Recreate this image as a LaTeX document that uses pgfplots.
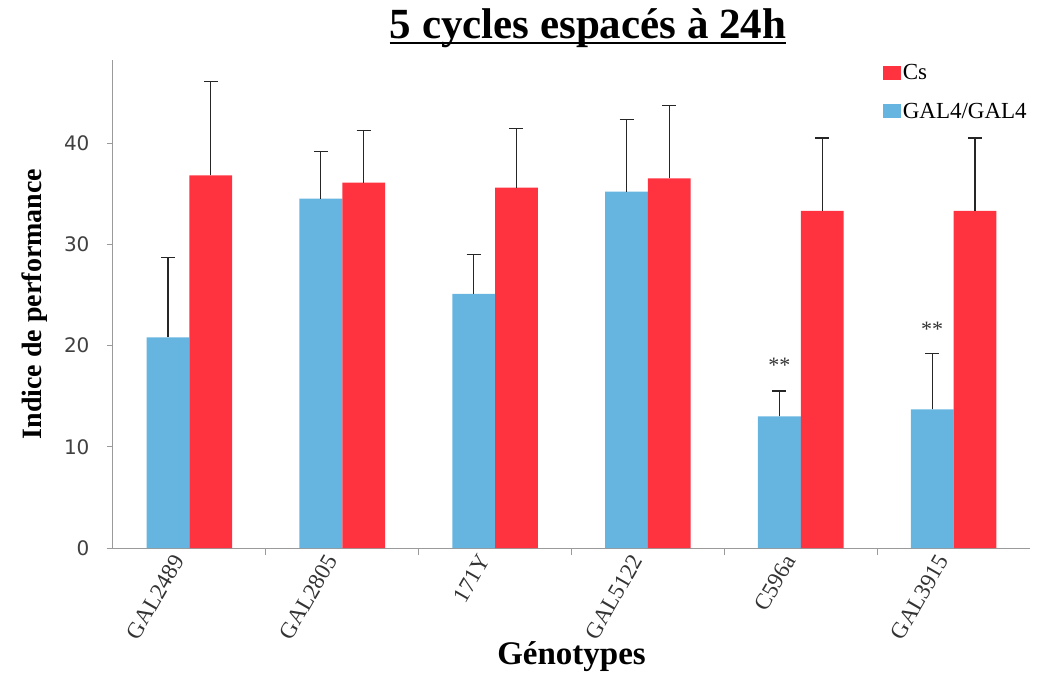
\documentclass[border=0pt]{standalone}
\usepackage{fontspec}
\setmainfont{Liberation Serif}
\newfontfamily\ticksans{DejaVu Sans}
\usepackage{pgfplots}
\pgfplotsset{compat=1.18}

\definecolor{galblue}{HTML}{65B5E0}
\definecolor{csred}{HTML}{FF333F}
\definecolor{axgray}{HTML}{9A9A9A}

\begin{document}
\begin{tikzpicture}
\begin{axis}[
  name=ax,
  scale only axis,
  width=917pt, height=488pt,
  ybar, bar width=0.28,
  xmin=-0.5, xmax=5.5,
  ymin=0, ymax=48.2,
  axis lines=left,
  axis line style={axgray, line width=1pt, -},
  xtick={0,...,5},
  xticklabels={GAL2489,GAL2805,171Y,GAL5122,C596a,GAL3915},
  major x tick style={draw=none},
  minor xtick={0.5,1.5,...,4.5},
  minor x tick style={axgray, line width=0.8pt},
  minor tick length=7pt,
  ytick={0,10,...,40},
  major y tick style={axgray, line width=0.8pt},
  major tick length=6pt,
  tick align=outside,
  x tick label style={font=\fontsize{23}{25}\selectfont, rotate=60, anchor=east, xshift=-4pt, yshift=8pt, text=black!80},
  y tick label style={font=\fontsize{20}{24}\selectfont\ticksans, text=black!75, xshift=-14pt},
  /pgf/number format/assume math mode=true,
  ylabel={Indice de performance},
  ylabel style={font=\fontsize{28}{32}\selectfont\bfseries, yshift=10pt},
  xlabel={Génotypes},
  xlabel style={font=\fontsize{33}{38}\selectfont\bfseries, yshift=8pt},
  legend style={draw=none, fill=none, at={(rel axis cs:0.836,1.0)}, anchor=north west,
    font=\fontsize{23}{25}\selectfont, row sep=18pt, cells={anchor=west}},
  legend image code/.code={\fill[#1, draw=none] (0pt,-7pt) rectangle (18pt,7pt);},
  reverse legend,
  error bars/y dir=plus,
  error bars/y explicit,
  error bars/error bar style={black!85, line width=1.2pt},
  error bars/error mark options={black!85, line width=1.2pt, mark size=7pt, rotate=90},
  clip=false,
]
\addplot[fill=galblue, draw=none, bar shift=-0.14] coordinates {
  (0,20.8) +- (0,7.9)
  (1,34.5) +- (0,4.7)
  (2,25.1) +- (0,3.9)
  (3,35.2) +- (0,7.1)
  (4,13.0) +- (0,2.5)
  (5,13.7) +- (0,5.5)
};
\addlegendentry{GAL4/GAL4}
\addplot[fill=csred, draw=none, bar shift=0.14] coordinates {
  (0,36.8) +- (0,9.3)
  (1,36.1) +- (0,5.1)
  (2,35.6) +- (0,5.8)
  (3,36.5) +- (0,7.2)
  (4,33.3) +- (0,7.2)
  (5,33.3) +- (0,7.2)
};
\addlegendentry{Cs}
\node[font=\fontsize{22}{24}\selectfont, text=black!80] at (axis cs:3.86,18.0) {**};
\node[font=\fontsize{22}{24}\selectfont, text=black!80] at (axis cs:4.86,21.6) {**};
\node[font=\fontsize{43}{48}\selectfont\bfseries, anchor=base, inner sep=0pt] (t)
  at ([yshift=21pt]rel axis cs:0.518,1) {5 cycles espacés à 24h};
\draw[line width=2.5pt] ([yshift=-4pt]t.base west) -- ([yshift=-4pt]t.base east);
\end{axis}
\pgfresetboundingbox
\useasboundingbox ([xshift=-113pt,yshift=-130pt]ax.south west) rectangle ([xshift=10pt,yshift=60pt]ax.north east);
\end{tikzpicture}
\end{document}
